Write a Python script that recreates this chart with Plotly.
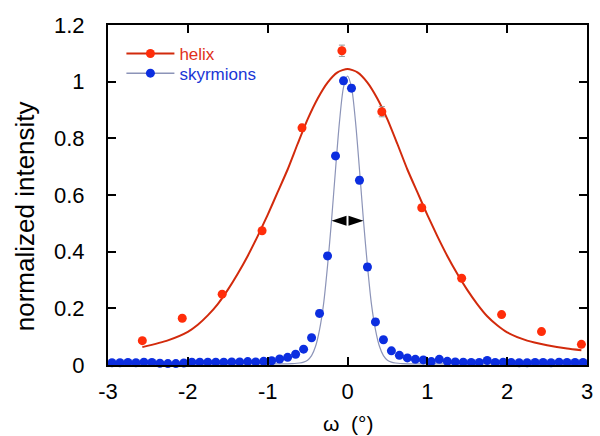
import plotly.graph_objects as go

# ---- data ----
helix_x = [-2.57, -2.07, -1.57, -1.07, -0.57, -0.07, 0.43, 0.93, 1.43, 1.93, 2.43, 2.93]
helix_y = [0.086, 0.165, 0.25, 0.474, 0.837, 1.109, 0.894, 0.555, 0.306, 0.178, 0.118, 0.073]
helix_err = [0.006, 0.006, 0.006, 0.008, 0.012, 0.02, 0.018, 0.01, 0.006, 0.005, 0.004, 0.004]

helix_fit_x = [-2.57, -2.25, -2.0, -1.875, -1.75, -1.625, -1.5, -1.375, -1.25, -1.125, -1.0,
               -0.875, -0.75, -0.625, -0.5, -0.375, -0.25, -0.125, 0.0,
               0.125, 0.25, 0.375, 0.5, 0.625, 0.75, 0.875, 1.0, 1.125, 1.25, 1.375,
               1.5, 1.625, 1.75, 1.875, 2.0, 2.25, 2.5, 2.75, 2.93]
helix_fit_y = [0.063, 0.087, 0.117, 0.142, 0.175, 0.215, 0.265, 0.322, 0.385, 0.455, 0.53,
               0.61, 0.69, 0.78, 0.867, 0.94, 0.997, 1.033, 1.045,
               1.033, 0.997, 0.94, 0.867, 0.78, 0.69, 0.61, 0.53, 0.455, 0.385, 0.322,
               0.265, 0.215, 0.172, 0.14, 0.115, 0.086, 0.07, 0.058, 0.052]

sky_x = [-2.95, -2.85, -2.75, -2.65, -2.55, -2.45, -2.35, -2.25, -2.15, -2.05,
         -1.95, -1.85, -1.75, -1.65, -1.55, -1.45, -1.35, -1.25, -1.15, -1.05,
         -0.95, -0.85, -0.75, -0.65, -0.55, -0.45, -0.35, -0.25, -0.15, -0.05,
         0.05, 0.15, 0.25, 0.35, 0.45, 0.55, 0.65, 0.75, 0.85, 0.95,
         1.05, 1.15, 1.25, 1.35, 1.45, 1.55, 1.65, 1.75, 1.85, 1.95,
         2.05, 2.15, 2.25, 2.35, 2.45, 2.55, 2.65, 2.75, 2.85, 2.95]
sky_y = [0.008, 0.008, 0.009, 0.008, 0.010, 0.009, 0.006, 0.005, 0.005, 0.007,
         0.010, 0.010, 0.010, 0.010, 0.010, 0.011, 0.011, 0.012, 0.011, 0.013,
         0.015, 0.021, 0.027, 0.038, 0.056, 0.096, 0.182, 0.385, 0.738, 1.003,
         0.977, 0.652, 0.346, 0.152, 0.089, 0.050, 0.034, 0.025, 0.020, 0.018,
         0.012, 0.020, 0.013, 0.011, 0.010, 0.009, 0.009, 0.016, 0.009, 0.010,
         0.009, 0.008, 0.008, 0.009, 0.009, 0.008, 0.010, 0.009, 0.009, 0.009]
sky_err = [0.004 if v < 0.1 else 0.012 for v in sky_y]

sky_fit_x = [-3.0, -1.5, -1.0, -0.8, -0.7, -0.6, -0.55, -0.5, -0.45, -0.4, -0.35, -0.3,
             -0.25, -0.2, -0.15, -0.1, -0.05, 0.0, 0.05, 0.1, 0.15, 0.2, 0.25, 0.3,
             0.35, 0.4, 0.45, 0.5, 0.55, 0.6, 0.7, 0.8, 1.0, 1.5, 3.0]
sky_fit_y = [0.004, 0.004, 0.004, 0.004, 0.005, 0.007, 0.010, 0.017, 0.033, 0.066, 0.125, 0.215,
             0.35, 0.51, 0.69, 0.86, 0.98, 1.02, 0.98, 0.86, 0.69, 0.51, 0.35, 0.215,
             0.125, 0.066, 0.033, 0.017, 0.010, 0.007, 0.005, 0.004, 0.004, 0.004, 0.004]

arrow_x = 0.0     # centre of the double arrow (FWHM marker)
arrow_y = 0.509

x_ticks = [-3, -2, -1, 0, 1, 2, 3]
x_ticktext = ["-3", "-2", "-1", "0", "1", "2", "3"]
y_ticks = [0, 0.2, 0.4, 0.6, 0.8, 1.0, 1.2]
y_ticktext = ["0", "0.2", "0.4", "0.6", "0.8", "1", "1.2"]

RED_PT = "#ff2d0a"
RED_LN = "#d22a0c"
RED_TXT = "#e0301a"
BLUE_PT = "#0c2ee0"
BLUE_LN = "#8c94b8"
BLUE_TXT = "#1a36d6"
FONT = "Arial, Liberation Sans, sans-serif"

fig = go.Figure()

fig.add_trace(go.Scatter(x=helix_fit_x, y=helix_fit_y, mode="lines",
                         line=dict(color=RED_LN, width=2, shape="spline", smoothing=0.6),
                         showlegend=False, hoverinfo="skip"))
fig.add_trace(go.Scatter(x=sky_fit_x, y=sky_fit_y, mode="lines",
                         line=dict(color=BLUE_LN, width=1.2, shape="spline", smoothing=0.8),
                         showlegend=False, hoverinfo="skip"))

fig.add_trace(go.Scatter(x=helix_x, y=helix_y, mode="markers",
                         marker=dict(color=RED_PT, size=9),
                         error_y=dict(type="data", array=helix_err, color="#999999",
                                      thickness=1, width=3),
                         showlegend=False, cliponaxis=False))
fig.add_trace(go.Scatter(x=sky_x, y=sky_y, mode="markers",
                         marker=dict(color=BLUE_PT, size=9),
                         error_y=dict(type="data", array=sky_err, color="#9aa0c0",
                                      thickness=1, width=3),
                         showlegend=False, cliponaxis=False))

# legend entries (two separate legends to get the tight row spacing)
fig.add_trace(go.Scatter(x=[None], y=[None], mode="lines+markers", name="helix",
                         line=dict(color=RED_LN, width=2),
                         marker=dict(color=RED_PT, size=9), legend="legend"))
fig.add_trace(go.Scatter(x=[None], y=[None], mode="lines+markers", name="skyrmions",
                         line=dict(color=BLUE_LN, width=1.5),
                         marker=dict(color=BLUE_PT, size=9), legend="legend2"))

# double arrow (black triangles) marking the width
for path in ["M-1,-5 L-1,5 L-16,0 Z", "M1,-5 L1,5 L16,0 Z"]:
    fig.add_shape(type="path", xref="x", yref="y", xsizemode="pixel", ysizemode="pixel",
                  xanchor=arrow_x, yanchor=arrow_y, path=path,
                  fillcolor="black", line=dict(width=0))

axis_common = dict(showline=True, linecolor="black", linewidth=2, mirror="ticks",
                   ticks="inside", ticklen=8, tickwidth=2, tickcolor="black",
                   showgrid=False, zeroline=False,
                   tickfont=dict(family=FONT, size=22, color="black"))

fig.update_layout(
    width=600, height=436,
    margin=dict(l=108, r=7, t=25, b=71),
    paper_bgcolor="white", plot_bgcolor="white",
    xaxis=dict(range=[-3, 3], tickvals=x_ticks, ticktext=x_ticktext, ticklabelstandoff=6,
               **axis_common),
    yaxis=dict(range=[0, 1.2], tickvals=y_ticks, ticktext=y_ticktext, ticklabelstandoff=17,
               **axis_common),
    legend=dict(x=0.028, y=0.915, xanchor="left", yanchor="middle", itemwidth=48,
                bgcolor="rgba(0,0,0,0)", font=dict(family=FONT, size=17, color=RED_TXT)),
    legend2=dict(x=0.028, y=0.857, xanchor="left", yanchor="middle", itemwidth=48,
                 bgcolor="rgba(0,0,0,0)", font=dict(family=FONT, size=17, color=BLUE_TXT)),
    annotations=[
        dict(text="ω  (°)", xref="paper", yref="paper", x=0.5, y=-0.172,
             xanchor="center", yanchor="middle", showarrow=False,
             font=dict(family=FONT, size=21, color="black")),
        dict(text="normalized intensity", xref="paper", yref="paper", x=-0.173, y=0.438,
             xanchor="center", yanchor="middle", textangle=-90, showarrow=False,
             font=dict(family=FONT, size=26, color="black")),
    ],
)

fig.write_html("out.html")
